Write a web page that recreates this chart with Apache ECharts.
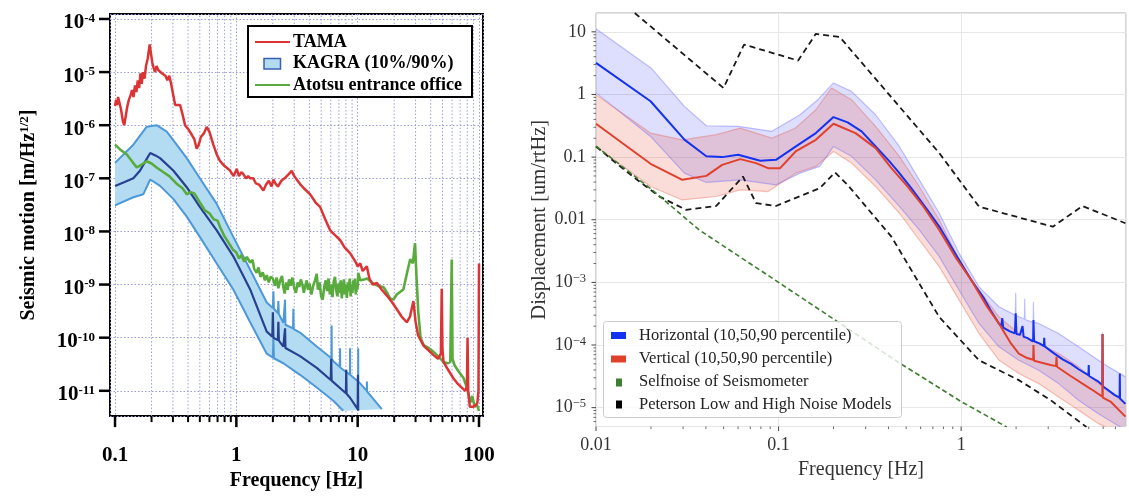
<!DOCTYPE html>
<html><head><meta charset="utf-8">
<script src="https://cdn.jsdelivr.net/npm/echarts@6/dist/echarts.min.js"></script>
<style>html,body{margin:0;padding:0;background:#fff}#c{width:1129px;height:496px}</style>
</head><body><div id="c"></div>
<script>
// ---------------- DATA (frequency [Hz], amplitude) ----------------
// Left panel
const tamaData = [[0.100,2.3e-6],[0.102,3.0e-6],[0.104,2.4e-6],[0.106,3.4e-6],[0.109,3.6e-6],[0.112,2.0e-6],[0.116,1.2e-6],[0.119,1.0e-6],[0.122,1.4e-6],[0.126,2.2e-6],[0.130,3.0e-6],[0.134,3.6e-6],[0.138,4.6e-6],[0.142,3.4e-6],[0.146,5.6e-6],[0.150,4.2e-6],[0.154,7.0e-6],[0.158,5.0e-6],[0.162,9.5e-6],[0.166,6.0e-6],[0.170,1.0e-5],[0.175,7.5e-6],[0.180,1.3e-5],[0.186,1.8e-5],[0.193,3.3e-5],[0.198,2.2e-5],[0.203,1.5e-5],[0.208,1.2e-5],[0.214,1.0e-5],[0.220,1.3e-5],[0.227,1.1e-5],[0.235,1.15e-5],[0.243,9.5e-6],[0.251,1.0e-5],[0.26,8.5e-6],[0.27,7.0e-6],[0.28,8.5e-6],[0.29,6.0e-6],[0.30,4.0e-6],[0.313,2.4e-6],[0.325,2.6e-6],[0.344,2.4e-6],[0.36,1.6e-6],[0.378,1.0e-6],[0.40,8.5e-7],[0.429,6.6e-7],[0.45,5.5e-7],[0.471,3.6e-7],[0.49,4.3e-7],[0.51,6.0e-7],[0.54,7.0e-7],[0.57,9.3e-7],[0.60,7.5e-7],[0.646,4.3e-7],[0.69,2.8e-7],[0.735,2.1e-7],[0.80,1.7e-7],[0.887,1.4e-7],[0.95,1.1e-7],[1.007,1.5e-7],[1.05,1.1e-7],[1.1,1.3e-7],[1.143,1.2e-7],[1.2,1.0e-7],[1.25,1.1e-7],[1.3,1.0e-7],[1.38,1.0e-7],[1.45,8.0e-8],[1.55,7.5e-8],[1.67,5.9e-8],[1.75,7.5e-8],[1.85,9.0e-8],[1.95,7.0e-8],[2.02,9.5e-8],[2.1,8.0e-8],[2.2,7.0e-8],[2.35,9.0e-8],[2.5,1.0e-7],[2.7,1.2e-7],[2.86,1.38e-7],[3.0,1.1e-7],[3.2,9.0e-8],[3.35,7.8e-8],[3.6,6.5e-8],[4.06,5.0e-8],[4.5,3.5e-8],[4.9,2.9e-8],[5.4,1.7e-8],[5.93,1.05e-8],[6.5,8.5e-9],[7.16,6.9e-9],[7.8,5.0e-9],[8.65,3.9e-9],[9.5,2.8e-9],[10.0,2.2e-9],[10.5,2.5e-9],[11.0,1.8e-9],[11.9,2.2e-9],[12.5,1.3e-9],[13.3,1.0e-9],[14.4,1.07e-9],[15.8,8.0e-10],[17.4,6.2e-10],[19.0,4.8e-10],[20.9,3.5e-10],[23.0,2.5e-10],[25.4,1.95e-10],[27.0,2.5e-10],[28.8,4.9e-10],[30.0,2.0e-10],[31.5,1.1e-10],[35.0,7.0e-11],[42.2,4.7e-11],[46.0,4.0e-11],[48.5,5.0e-11],[49.3,8.3e-10],[50.0,6.0e-11],[51.0,3.5e-11],[55.0,2.6e-11],[61.7,1.7e-11],[66.0,1.4e-11],[72.1,1.15e-11],[77.0,1.0e-11],[79.5,1.2e-11],[80.5,1.0e-10],[81.5,1.0e-11],[84,5e-12],[90,5e-12],[95,5.5e-12],[97,6e-12],[99,1e-11],[100,2.5e-9]];
const atotsuData = [[0.1,4.3e-7],[0.11,3.5e-7],[0.125,2.8e-7],[0.14,2.0e-7],[0.151,1.6e-7],[0.165,1.8e-7],[0.182,2.1e-7],[0.2,1.9e-7],[0.22,1.6e-7],[0.251,1.3e-7],[0.28,1.1e-7],[0.32,8.0e-8],[0.36,6.5e-8],[0.39,5.0e-8],[0.42,5.5e-8],[0.45,5.2e-8],[0.5,3.5e-8],[0.55,2.5e-8],[0.6,2.2e-8],[0.65,1.7e-8],[0.7,1.6e-8],[0.735,1.2e-8],[0.8,8.0e-9],[0.85,6.5e-9],[0.94,4.5e-9],[1.0,4.0e-9],[1.05,3.1e-9],[1.1,3.6e-9],[1.16,2.7e-9],[1.22,3.3e-9],[1.3,2.6e-9],[1.36,2.9e-9],[1.4,2.0e-9],[1.47,1.66e-9],[1.52,2.1e-9],[1.58,1.4e-9],[1.65,1.7e-9],[1.72,1.2e-9],[1.78,1.5e-9],[1.85,1.1e-9],[1.92,1.4e-9],[2.0,1.3e-9],[2.08,9.5e-10],[2.15,1.35e-9],[2.22,8.5e-10],[2.3,1.2e-9],[2.38,1.45e-9],[2.44,9.0e-10],[2.5,6.8e-10],[2.58,1.1e-9],[2.65,8.0e-10],[2.72,1.25e-9],[2.8,9.5e-10],[2.9,1.35e-9],[3.0,8.5e-10],[3.1,7.0e-10],[3.2,1.1e-9],[3.3,9.0e-10],[3.4,1.25e-9],[3.5,1.0e-9],[3.6,7.0e-10],[3.7,9.5e-10],[3.8,1.2e-9],[3.9,8.0e-10],[4.0,1.05e-9],[4.15,6.5e-10],[4.3,9.5e-10],[4.45,1.2e-9],[4.6,1.6e-9],[4.7,8.0e-10],[4.85,1.1e-9],[5.0,6.0e-10],[5.15,5.2e-10],[5.3,9.0e-10],[5.45,1.2e-9],[5.6,7.5e-10],[5.75,1.3e-9],[5.9,6.5e-10],[6.05,1.0e-9],[6.2,5.8e-10],[6.35,1.15e-9],[6.5,1.4e-9],[6.65,8.0e-10],[6.8,6.0e-10],[6.95,1.05e-9],[7.1,7.0e-10],[7.25,1.2e-9],[7.4,5.5e-10],[7.55,9.0e-10],[7.7,1.25e-9],[7.85,6.5e-10],[8.0,1.0e-9],[8.15,5.6e-10],[8.3,1.1e-9],[8.45,7.5e-10],[8.6,1.3e-9],[8.75,6.0e-10],[8.9,1.0e-9],[9.05,7.0e-10],[9.2,1.2e-9],[9.35,8.0e-10],[9.5,1.3e-9],[9.65,6.5e-10],[9.8,1.0e-9],[9.95,8.0e-10],[10.05,1.1e-9],[10.1,1.66e-9],[10.5,1.2e-9],[11.3,1.25e-9],[12.0,1.3e-9],[13.0,1.1e-9],[14.0,1.0e-9],[15.0,9.3e-10],[16.3,9.0e-10],[17.5,7.0e-10],[18.5,5.5e-10],[19.7,5.2e-10],[21.0,6.5e-10],[23.8,8.1e-10],[26.0,2.0e-9],[27.1,3.0e-9],[28.5,2.5e-9],[29.7,6.0e-9],[30.5,1.5e-9],[31.6,3.0e-10],[33.0,1.0e-10],[35,7.2e-11],[38,6.5e-11],[42.2,5.4e-11],[46,4.5e-11],[50.9,3.5e-11],[55,3.3e-11],[58,3.5e-11],[59.6,2.95e-9],[60.5,4.0e-11],[63,3.0e-11],[68,2.3e-11],[74.5,1.74e-11],[79,1.2e-11],[82,8.5e-12],[84.6,6e-12],[88,8e-12],[92,5e-12],[96,5.5e-12],[100,4.2e-12]];
const kagraMedian = [[0.1,7.2e-8],[0.12,8.5e-8],[0.1416,1.0e-7],[0.161,1.4e-7],[0.18,2.2e-7],[0.195,3.0e-7],[0.215,2.7e-7],[0.235,2.4e-7],[0.302,1.4e-7],[0.39,6.8e-8],[0.5,2.9e-8],[0.689,1.05e-8],[0.944,3.4e-9],[1.3,8.1e-10],[1.78,1.3e-10],[1.98,1.05e-10],[2.0,3.0e-10],[2.02,1.0e-10],[2.2,9.0e-11],[2.22,2.0e-10],[2.24,8.8e-11],[2.44,6.8e-11],[2.5,6.5e-11],[2.52,1.5e-10],[2.54,6.4e-11],[3.35,4.5e-11],[4.6,2.7e-11],[6.0,1.6e-11],[6.05,4e-11],[6.1,1.55e-11],[6.3,1.5e-11],[8.0,9e-12],[8.05,2.5e-11],[8.1,8.8e-12],[8.65,7.4e-12],[10.0,4.5e-12],[10.05,2.0e-11],[10.1,4.2e-12]];
const kagraP90 = [[0.1,1.95e-7],[0.1416,4.3e-7],[0.182,9.3e-7],[0.22,1.0e-6],[0.267,7.6e-7],[0.322,4.3e-7],[0.39,2.4e-7],[0.5,1.0e-7],[0.689,3.3e-8],[0.944,7.9e-9],[1.3,1.9e-9],[1.78,4.6e-10],[2.0,3.6e-10],[2.02,7.5e-10],[2.04,3.5e-10],[2.2,2.9e-10],[2.22,4.9e-10],[2.24,2.8e-10],[2.44,1.9e-10],[2.5,1.8e-10],[2.52,5.2e-10],[2.54,1.75e-10],[2.93,1.5e-10],[2.95,3.5e-10],[2.97,1.45e-10],[3.35,1.25e-10],[4.6,6.8e-11],[6.08,4.1e-11],[6.1,1.7e-10],[6.12,4.0e-11],[6.3,3.6e-11],[7.14,2.8e-11],[7.16,6.3e-11],[7.18,2.75e-11],[8.63,2.0e-11],[8.65,6.3e-11],[8.67,2.0e-11],[10.08,1.5e-11],[10.1,6.3e-11],[10.12,1.5e-11],[11.9,1.0e-11],[11.92,1.5e-11],[11.94,9.8e-12],[15.8,4.5e-12]];
const kagraP10 = [[0.1,3.1e-8],[0.1416,4.4e-8],[0.171,5.0e-8],[0.195,9.5e-8],[0.235,7.2e-8],[0.302,4.1e-8],[0.39,1.9e-8],[0.5,7.9e-9],[0.689,2.5e-9],[0.944,8.1e-10],[1.3,1.95e-10],[1.78,5.0e-11],[2.0,4.2e-11],[2.02,1.0e-10],[2.04,4.1e-11],[2.44,3.3e-11],[3.35,2.0e-11],[4.6,1.15e-11],[6.3,6.5e-12],[7.6,4.2e-12]];

// Right panel
const horizMedian = [[0.01,3.19],[0.0199,0.78],[0.0305,0.19],[0.0402,0.103],[0.0491,0.1],[0.0601,0.109],[0.0794,0.0873],[0.0968,0.0906],[0.128,0.157],[0.16,0.242],[0.2,0.436],[0.239,0.359],[0.285,0.258],[0.34,0.148],[0.405,0.0853],[0.459,0.0555],[0.533,0.0319],[0.653,0.0144],[0.759,0.00778],[0.927,0.00291],[1.135,0.00109],[1.318,5.9e-4],[1.45,3.6e-4],[1.61,2.21e-4],[1.66,2.0e-4],[1.68,2.7e-4],[1.70,1.9e-4],[1.85,1.65e-4],[1.97,1.53e-4],[1.99,3.2e-4],[2.01,1.5e-4],[2.1,1.45e-4],[2.17,2.0e-4],[2.2,1.35e-4],[2.3,1.3e-4],[2.41,1.19e-4],[2.48,1.15e-4],[2.49,2.5e-4],[2.51,1.15e-4],[2.7,1.05e-4],[2.84,9.6e-5],[2.85,1.3e-4],[2.87,9.5e-5],[3.2,7.5e-5],[3.6,5.9e-5],[4.0,5.0e-5],[4.4,4.1e-5],[4.98,3.3e-5],[5.0,4.8e-5],[5.02,3.2e-5],[5.65,2.6e-5],[5.94,2.3e-5],[5.95,1.5e-4],[5.97,2.2e-5],[6.92,1.6e-5],[7.38,1.45e-5],[7.4,3.5e-5],[7.42,1.4e-5],[7.94,1.15e-5]];
const horizP90 = [[0.01,11.2],[0.02,2.65],[0.0305,0.647],[0.0402,0.317],[0.0601,0.31],[0.092,0.258],[0.131,0.475],[0.164,0.826],[0.2,1.53],[0.251,1.12],[0.34,0.475],[0.459,0.148],[0.59,0.0434],[0.759,0.0127],[0.975,0.00291],[1.253,8.5e-4],[1.61,4.08e-4],[1.98,3.0e-4],[1.99,6.8e-4],[2.0,2.95e-4],[2.07,2.82e-4],[2.22,2.6e-4],[2.23,5.5e-4],[2.24,2.55e-4],[2.48,2.3e-4],[2.49,4.9e-4],[2.5,2.3e-4],[2.66,2.21e-4],[3.42,1.53e-4],[4.4,9.35e-5],[5.65,5.71e-5],[5.94,5.2e-5],[5.95,1.6e-4],[5.96,5.1e-5],[7.94,3.1e-5]];
const horizP10 = [[0.01,1.06],[0.0199,0.214],[0.0305,0.0555],[0.0402,0.0394],[0.0617,0.0434],[0.0968,0.036],[0.131,0.0555],[0.168,0.071],[0.2,0.148],[0.251,0.103],[0.34,0.0434],[0.459,0.0163],[0.59,0.00687],[0.759,0.00258],[0.975,7.5e-4],[1.253,2.21e-4],[1.61,9.35e-5],[2.07,5.71e-5],[2.66,3.95e-5],[3.42,2.42e-5],[4.4,1.31e-5],[5.65,8.0e-6],[7.94,4.4e-6]];
const vertMedian = [[0.01,0.341],[0.0199,0.0782],[0.0297,0.0434],[0.0402,0.0502],[0.0491,0.0753],[0.0617,0.0929],[0.0753,0.0802],[0.0875,0.0667],[0.102,0.0667],[0.124,0.123],[0.16,0.189],[0.2,0.341],[0.264,0.242],[0.34,0.139],[0.415,0.0667],[0.508,0.034],[0.621,0.0163],[0.759,0.00687],[0.927,0.00258],[1.135,0.00109],[1.387,4.08e-4],[1.61,2.21e-4],[1.875,1.06e-4],[2.07,7.3e-5],[2.3,6.2e-5],[2.48,5.8e-5],[2.49,1.0e-4],[2.51,5.6e-5],[3.09,4.8e-5],[3.31,4.6e-5],[3.33,6.5e-5],[3.35,4.5e-5],[3.98,3.2e-5],[5.12,2.0e-5],[5.94,1.5e-5],[5.95,1.5e-4],[5.97,1.45e-5],[6.58,1.25e-5],[7.94,7.2e-6]];
const vertP90 = [[0.01,0.993],[0.0199,0.242],[0.0297,0.189],[0.0456,0.228],[0.0617,0.291],[0.092,0.201],[0.124,0.291],[0.16,0.571],[0.195,1.27],[0.251,0.826],[0.34,0.31],[0.459,0.103],[0.59,0.034],[0.759,0.00993],[0.975,0.00228],[1.253,7.5e-4],[1.61,2.82e-4],[2.07,1.53e-4],[2.66,1.06e-4],[3.42,7.3e-5],[4.4,4.48e-5],[5.65,2.42e-5],[7.94,1.16e-5]];
const vertP10 = [[0.01,0.148],[0.0199,0.034],[0.0297,0.0207],[0.0456,0.0235],[0.0617,0.03],[0.0875,0.0282],[0.124,0.0555],[0.16,0.071],[0.2,0.123],[0.251,0.0802],[0.34,0.034],[0.459,0.0127],[0.59,0.00475],[0.759,0.00178],[0.975,5.2e-4],[1.253,1.53e-4],[1.61,5.71e-5],[2.07,3.5e-5],[2.66,2.42e-5],[3.42,1.48e-5],[4.4,9.06e-6],[5.65,5.55e-6],[7.94,3.5e-6]];
const selfNoise = [[0.01,0.15],[0.02,0.031],[0.0367,0.0069],[0.1,0.001],[0.449,5.4e-5],[1.0,1.25e-5],[1.78,4.9e-6]];
const petersonHigh = [[0.0163,20],[0.0499,1.27],[0.0647,6.27],[0.128,3.48],[0.16,9.29],[0.216,8.32],[0.426,0.826],[0.759,0.116],[1.253,0.0162],[3.18,0.00776],[4.62,0.0166],[7.94,0.00879]];
const petersonLow = [[0.01,0.148],[0.0129,0.080],[0.0173,0.0407],[0.0223,0.0234],[0.0311,0.0144],[0.0456,0.0166],[0.0638,0.049],[0.0753,0.0184],[0.0968,0.0166],[0.168,0.0319],[0.204,0.0569],[0.239,0.036],[0.415,0.00537],[0.759,2.8e-4],[1.253,5.7e-5],[2.07,2.75e-5],[3.09,1.32e-5],[4.86,4.9e-6]];

// Ticks
const minorMult = [2,3,4,5,6,7,8,9];
const leftXTicks = [0.1, 1, 10, 100];
const leftYTicks = [1e-4,1e-5,1e-6,1e-7,1e-8,1e-9,1e-10,1e-11];
const rightXTicks = [0.01, 0.1, 1];
const rightYTicks = [10, 1, 0.1, 0.01, 1e-3, 1e-4, 1e-5, 1e-6];

// Legend labels
const leftLegend = ['TAMA', 'KAGRA (10%/90%)', 'Atotsu entrance office'];
const rightLegend = ['Horizontal (10,50,90 percentile)', 'Vertical (10,50,90 percentile)', 'Selfnoise of Seismometer', 'Peterson Low and High Noise Models'];

// ---------------- CHART ----------------
const L = {xMin: 0.0909, xMax: 107.9, yMin: 3.34e-12, yMax: 1.24e-4};
const R = {xMin: 0.01, xMax: 8, yMin: 5e-6, yMax: 20};
const TIMES = 'Liberation Serif';

function minors(decades, lo, hi){
  const out = [];
  decades.forEach(d => minorMult.forEach(m => { const v = m*d; if (v > lo && v < hi) out.push(v); }));
  return out;
}

function segSeries(xi, yi, segs, z, clip){
  return {type:'custom', xAxisIndex:xi, yAxisIndex:yi, z:z, silent:true, clip:!!clip,
    data: segs.map(s => s.a),
    renderItem: function(params, api){
      const s = segs[params.dataIndex];
      const p = api.coord(s.a);
      const q = s.b ? api.coord(s.b) : [p[0]+s.d[0], p[1]+s.d[1]];
      return {type:'line', shape:{x1:p[0], y1:p[1], x2:q[0], y2:q[1]},
        style:{stroke:s.c, lineWidth:s.w, lineDash:s.dash || null}};
    }};
}
function bandSeries(xi, yi, upper, lower, fill, z){
  return {type:'custom', xAxisIndex:xi, yAxisIndex:yi, z:z, silent:true, clip:true,
    data:[upper[0]],
    renderItem: function(params, api){
      const pts = upper.map(p => api.coord(p)).concat(lower.slice().reverse().map(p => api.coord(p)));
      return {type:'polygon', shape:{points:pts}, style:{fill:fill}};
    }};
}
function lineSeries(xi, yi, data, color, width, z, dash){
  return {type:'line', xAxisIndex:xi, yAxisIndex:yi, data:data, z:z, silent:true,
    showSymbol:false, symbol:'none', clip:true,
    lineStyle:{color:color, width:width, type: dash || 'solid'}};
}

// Left decorations
const leftSegs = [];
const lGrid = {c:'#9c9cd8', w:1, dash:[1.5,2]};
minors([0.1,1,10], L.xMin, L.xMax).forEach(v => leftSegs.push({a:[v,L.yMin], b:[v,L.yMax], c:lGrid.c, w:lGrid.w, dash:lGrid.dash}));
const leftTicks = [];
leftXTicks.forEach(v => leftTicks.push({a:[v,L.yMin], d:[0,11], c:'#000', w:2.5}));
minors([0.1,1,10], L.xMin, L.xMax).forEach(v => leftTicks.push({a:[v,L.yMin], d:[0,6], c:'#000', w:2}));
leftYTicks.forEach(v => leftTicks.push({a:[L.xMin,v], d:[-11,0], c:'#000', w:2.5}));

// Right decorations
const rightTicks = [];
rightXTicks.forEach(v => rightTicks.push({a:[v,R.yMin], d:[0,4.5], c:'#444', w:1}));
minors([0.01,0.1,1], R.xMin, R.xMax).forEach(v => rightTicks.push({a:[v,R.yMin], d:[0,2.5], c:'#444', w:0.8}));
rightYTicks.filter(v => v >= R.yMin && v <= R.yMax).forEach(v => rightTicks.push({a:[R.xMin,v], d:[-4.5,0], c:'#444', w:1}));
minors([1e-6,1e-5,1e-4,1e-3,0.01,0.1,1,10], R.yMin, R.yMax).forEach(v => rightTicks.push({a:[R.xMin,v], d:[-2.5,0], c:'#444', w:0.8}));

function isDecade(v){ const e = Math.log10(v); return Math.abs(e - Math.round(e)) < 1e-6; }

const option = {
  animation:false,
  backgroundColor:'#fff',
  grid:[
    {left:110, top:14, width:373, height:408, show:true, borderColor:'#000', borderWidth:2, backgroundColor:'transparent', containLabel:false},
    {left:596, top:13, width:534, height:413.5, show:true, borderColor:'#ababab', borderWidth:1, backgroundColor:'transparent', containLabel:false}
  ],
  xAxis:[
    {type:'log', gridIndex:0, min:L.xMin, max:L.xMax, logBase:10,
     axisLine:{show:false}, axisTick:{show:false},
     splitLine:{show:true, lineStyle:{color:lGrid.c, width:1, type:lGrid.dash}},
     axisLabel:{margin:29, color:'#000', fontFamily:TIMES, fontWeight:'bold', fontSize:21,
       formatter: v => isDecade(v) ? String(+v.toPrecision(3)) : ''},
     name:'Frequency [Hz]', nameLocation:'middle', nameGap:49,
     nameTextStyle:{fontFamily:TIMES, fontWeight:'bold', fontSize:20, color:'#000'}},
    {type:'log', gridIndex:1, min:R.xMin, max:R.xMax, logBase:10,
     axisLine:{show:false}, axisTick:{show:false},
     splitLine:{show:true, lineStyle:{color:'#e6e6e6', width:1}},
     axisLabel:{margin:10, color:'#333', fontFamily:TIMES, fontSize:18,
       formatter: v => isDecade(v) ? String(+v.toPrecision(3)) : ''},
     name:'Frequency [Hz]', nameLocation:'middle', nameGap:27,
     nameTextStyle:{fontFamily:TIMES, fontSize:20, color:'#333'}}
  ],
  yAxis:[
    {type:'log', gridIndex:0, min:L.yMin, max:L.yMax, logBase:10,
     axisLine:{show:false}, axisTick:{show:false},
     splitLine:{show:true, lineStyle:{color:lGrid.c, width:1, type:lGrid.dash}},
     axisLabel:{margin:15, padding:[8,0,0,0],
       formatter: v => isDecade(v) ? '{b|10}{s|' + Math.round(Math.log10(v)) + '}' : '',
       rich:{b:{fontFamily:TIMES, fontWeight:'bold', fontSize:21, color:'#000', lineHeight:22},
             s:{fontFamily:TIMES, fontWeight:'bold', fontSize:13, color:'#000', lineHeight:10, verticalAlign:'top'}}},
     name:'{a|Seismic motion [m/Hz}{s|1/2}{a|]}', nameLocation:'middle', nameGap:70,
     nameTextStyle:{rich:{a:{fontFamily:TIMES, fontWeight:'bold', fontSize:20, color:'#000', lineHeight:22},
                          s:{fontFamily:TIMES, fontWeight:'bold', fontSize:13, color:'#000', lineHeight:10, verticalAlign:'top'}}}},
    {type:'log', gridIndex:1, min:R.yMin, max:R.yMax, logBase:10,
     axisLine:{show:false}, axisTick:{show:false},
     splitLine:{show:true, lineStyle:{color:'#e6e6e6', width:1}},
     axisLabel:{margin:10,
       formatter: v => { if (!isDecade(v)) return ''; const e = Math.round(Math.log10(v));
         return e >= -2 ? '{n|' + String(+v.toPrecision(3)) + '}' : '{n|10}{e|\u2212' + (-e) + '}'; },
       rich:{n:{fontFamily:TIMES, fontSize:18, color:'#333', lineHeight:20},
             e:{fontFamily:TIMES, fontSize:12.5, color:'#333', lineHeight:12, verticalAlign:'top'}}},
     name:'Displacement [um/rtHz]', nameLocation:'middle', nameGap:41,
     nameTextStyle:{fontFamily:TIMES, fontSize:20.5, color:'#333'}}
  ],
  series:[
    segSeries(0,0,leftSegs,1,false),
    segSeries(0,0,leftTicks,6,false),
    bandSeries(0,0,kagraP90,kagraP10,'#b3dcf3',2),
    lineSeries(0,0,kagraP90,'#4c98d8',2,3),
    lineSeries(0,0,kagraP10,'#4c98d8',2,3),
    lineSeries(0,0,kagraMedian,'#27408f',2.2,3),
    lineSeries(0,0,atotsuData,'#5aab3e',2.6,4),
    lineSeries(0,0,tamaData,'#dc3434',2.5,4),

    segSeries(1,1,rightTicks,6,false),
    bandSeries(1,1,horizP90,horizP10,'rgba(60,60,255,0.17)',2),
    bandSeries(1,1,vertP90,vertP10,'rgba(230,70,50,0.19)',2),
    lineSeries(1,1,horizP90,'rgba(90,90,255,0.35)',1.2,3),
    lineSeries(1,1,horizP10,'rgba(90,90,255,0.35)',1.2,3),
    lineSeries(1,1,vertP90,'rgba(230,90,70,0.35)',1.2,3),
    lineSeries(1,1,vertP10,'rgba(230,90,70,0.35)',1.2,3),
    lineSeries(1,1,horizMedian,'#1432f0',2,4),
    lineSeries(1,1,vertMedian,'#e0412c',2,4),
    lineSeries(1,1,petersonHigh,'#1a1a1a',1.8,5,[6,4]),
    lineSeries(1,1,petersonLow,'#1a1a1a',1.8,5,[6,4]),
    lineSeries(1,1,selfNoise,'#3d7f2f',1.6,5,[5,3])
  ],
  graphic:[
    // left legend
    {type:'rect', z:100, shape:{x:248, y:26, width:224, height:71}, style:{fill:'#fff', stroke:'#000', lineWidth:2}},
    {type:'line', z:101, shape:{x1:255, y1:42, x2:290, y2:42}, style:{stroke:'#dc3434', lineWidth:2}},
    {type:'text', z:101, x:293, y:42, style:{text:leftLegend[0], fill:'#000', font:'bold 18px "Liberation Serif"', verticalAlign:'middle'}},
    {type:'rect', z:101, shape:{x:264, y:58.5, width:16.5, height:10.5}, style:{fill:'#b3dcf3', stroke:'#3a5fb0', lineWidth:1.5}},
    {type:'text', z:101, x:293, y:63.5, style:{text:leftLegend[1], fill:'#000', font:'bold 18px "Liberation Serif"', verticalAlign:'middle'}},
    {type:'line', z:101, shape:{x1:255, y1:85, x2:290, y2:85}, style:{stroke:'#5aab3e', lineWidth:2}},
    {type:'text', z:101, x:293, y:85, style:{text:leftLegend[2], fill:'#000', font:'bold 18px "Liberation Serif"', verticalAlign:'middle'}},
    // right legend
    {type:'rect', z:100, shape:{x:603.5, y:321.5, width:298, height:96, r:3}, style:{fill:'rgba(255,255,255,0.8)', stroke:'#cccccc', lineWidth:1}},
    {type:'rect', z:101, shape:{x:611, y:332, width:15, height:7}, style:{fill:'#1432f0'}},
    {type:'text', z:101, x:639, y:335.5, style:{text:rightLegend[0], fill:'#222', font:'16.5px "Liberation Serif"', verticalAlign:'middle'}},
    {type:'rect', z:101, shape:{x:611, y:355.5, width:15, height:7}, style:{fill:'#e0412c'}},
    {type:'text', z:101, x:639, y:359, style:{text:rightLegend[1], fill:'#222', font:'16.5px "Liberation Serif"', verticalAlign:'middle'}},
    {type:'rect', z:101, shape:{x:616, y:378.5, width:6, height:8}, style:{fill:'#3d7f2f'}},
    {type:'text', z:101, x:639, y:382, style:{text:rightLegend[2], fill:'#222', font:'16.5px "Liberation Serif"', verticalAlign:'middle'}},
    {type:'rect', z:101, shape:{x:616, y:400.5, width:6, height:8}, style:{fill:'#000'}},
    {type:'text', z:101, x:639, y:404.5, style:{text:rightLegend[3], fill:'#222', font:'16.5px "Liberation Serif"', verticalAlign:'middle'}}
  ]
};
const chart = echarts.init(document.getElementById('c'), null, {renderer:'canvas'});
chart.setOption(option);
</script></body></html>
